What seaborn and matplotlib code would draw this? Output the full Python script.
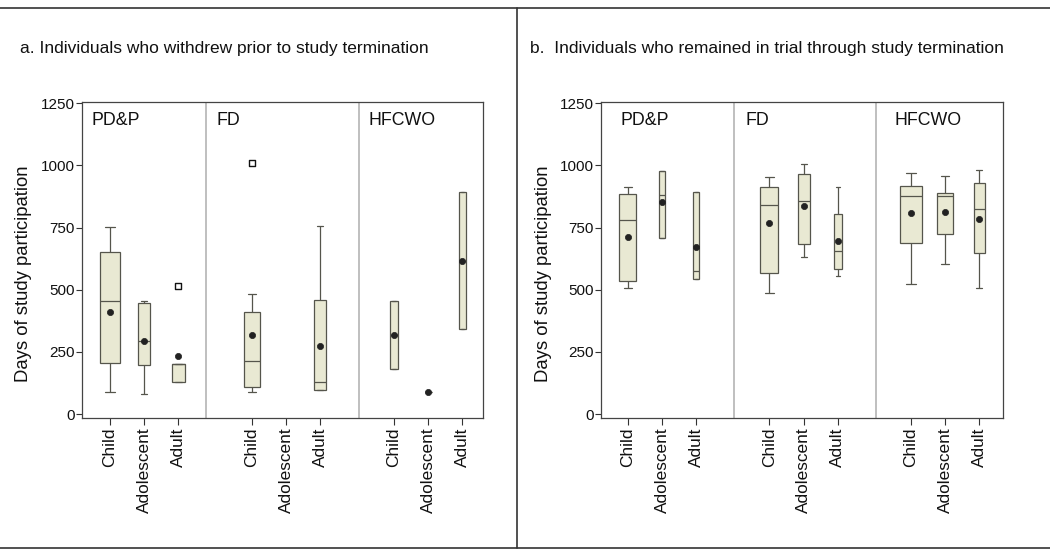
import numpy as np
import pandas as pd
import matplotlib
matplotlib.use("Agg")
import matplotlib.pyplot as plt
import seaborn as sns

# ---------------- data ----------------
groups = ["PD&P", "FD", "HFCWO"]
ages = ["Child", "Adolescent", "Adult"]

# Panel a: withdrew prior to study termination (order: PD&P C/Ad/A, FD C/Ad/A, HFCWO C/Ad/A)
a_lo   = [89, 80, 129, 89, np.nan, 97, 181, 89, 342]
a_q1   = [204, 198, 129, 109, np.nan, 98, 181, 89, 342]
a_med  = [455, 295, 200, 213, np.nan, 129, 319, 89, 616]
a_q3   = [652, 445, 200, 412, np.nan, 459, 455, 89, 895]
a_hi   = [751, 455, 200, 483, np.nan, 758, 455, 89, 895]
a_mean = [412, 295, 235, 319, np.nan, 275, 319, 89, 616]
a_out_idx = [2, 3]
a_out_val = [516, 1010]

# Panel b: remained in trial through study termination
b_lo   = [507, 709, 544, 488, 633, 557, 523, 605, 507]
b_q1   = [536, 709, 544, 569, 685, 582, 687, 726, 646]
b_med  = [781, 880, 577, 842, 857, 654, 877, 877, 826]
b_q3   = [885, 979, 895, 915, 964, 806, 916, 890, 928]
b_hi   = [913, 979, 895, 952, 1004, 913, 970, 956, 982]
b_mean = [713, 854, 671, 768, 837, 695, 807, 813, 786]

# ---------------- style ----------------
sns.set_style("white")
plt.rcParams["font.family"] = ["Liberation Sans", "DejaVu Sans"]

FILL = "#e9e9d3"
EDGE = "#55554c"
DOT = "#222222"
SEP = "#b4b4b4"

positions = [0, 1, 2, 4.15, 5.15, 6.15, 8.3, 9.3, 10.3]
a_widths = [0.58, 0.35, 0.38, 0.47, 0.3, 0.35, 0.26, 0.2, 0.23]
b_widths = [0.5, 0.2, 0.18, 0.53, 0.35, 0.23, 0.62, 0.47, 0.32]

fig = plt.figure(figsize=(10.5, 5.51), dpi=100)
ax_a = fig.add_axes([82 / 1050, 1 - 418 / 551, (483 - 82) / 1050, (418 - 102) / 551])
ax_b = fig.add_axes([601 / 1050, 1 - 418 / 551, (1003 - 601) / 1050, (418 - 102) / 551])


def style_axes(ax, xlim, ylabel_x):
    ax.set_xlim(*xlim)
    ax.set_ylim(-16, 1255)
    ax.set_yticks([0, 250, 500, 750, 1000, 1250])
    ax.set_xticks(positions)
    ax.set_xticklabels(ages * 3, rotation=90, fontsize=12.4)
    ax.tick_params(axis="y", labelsize=11, direction="out", length=4, width=0.8,
                   left=True, pad=1, colors="#333333")
    ax.tick_params(axis="x", direction="out", length=5, width=0.8, bottom=True,
                   pad=2, colors="#333333")
    for lab in ax.get_xticklabels() + ax.get_yticklabels():
        lab.set_color("#111111")
    ax.set_xlabel("")
    ax.set_ylabel("Days of study participation", fontsize=13.3, color="#111111")
    ax.yaxis.set_label_coords(ylabel_x, 0.455)
    for sp in ax.spines.values():
        sp.set_visible(True)
        sp.set_color("#444444")
        sp.set_linewidth(0.9)


def draw_panel(ax, lo, q1, med, q3, hi, mean, widths, seps, label_x):
    for i in range(len(positions)):
        if np.isnan(med[i]):
            continue
        vals = [lo[i], q1[i], med[i], q3[i], hi[i]]
        df = pd.DataFrame({"x": [positions[i]] * 5, "y": vals})
        sns.boxplot(data=df, x="x", y="y", native_scale=True, width=widths[i],
                    whis=np.inf, color=FILL, linecolor=EDGE, linewidth=0.9,
                    saturation=1, fliersize=0, ax=ax)
    mdf = pd.DataFrame({"x": positions, "y": mean}).dropna()
    sns.scatterplot(data=mdf, x="x", y="y", color=DOT, s=20, marker="o",
                    edgecolor=DOT, linewidth=0.5, ax=ax, zorder=5)
    for s in seps:
        ax.axvline(s, color=SEP, lw=1.2, zorder=0)
    for g, lx in zip(groups, label_x):
        ax.text(lx, 1180, g, fontsize=12.8, ha="left", va="center", color="#111111")


draw_panel(ax_a, a_lo, a_q1, a_med, a_q3, a_hi, a_mean, a_widths,
           [2.81, 7.28], [-0.53, 3.1, 7.54])
out_df = pd.DataFrame({"x": [positions[i] for i in a_out_idx], "y": a_out_val})
sns.scatterplot(data=out_df, x="x", y="y", marker="s", s=16, facecolor="white",
                edgecolor="#111111", linewidth=1.0, ax=ax_a, zorder=6)
style_axes(ax_a, (-0.82, 10.9), -50 / 401)

draw_panel(ax_b, b_lo, b_q1, b_med, b_q3, b_hi, b_mean, b_widths,
           [3.11, 7.28], [-0.23, 3.46, 7.83])
style_axes(ax_b, (-0.79, 11.0), -49 / 402)

fig.text(20 / 1050, 1 - 48 / 551, "a. Individuals who withdrew prior to study termination",
         fontsize=12.5, ha="left", va="center", color="#111111")
fig.text(530 / 1050, 1 - 48 / 551, "b.  Individuals who remained in trial through study termination",
         fontsize=12.5, ha="left", va="center", color="#111111")

# outer frame lines
fig.add_artist(plt.Line2D([0, 1], [1 - 8 / 551, 1 - 8 / 551], color="#333333", lw=1.2,
                          transform=fig.transFigure))
fig.add_artist(plt.Line2D([0, 1], [1 - 548 / 551, 1 - 548 / 551], color="#333333", lw=1.2,
                          transform=fig.transFigure))
fig.add_artist(plt.Line2D([517 / 1050, 517 / 1050], [1 - 8 / 551, 1 - 548 / 551],
                          color="#333333", lw=1.2, transform=fig.transFigure))

fig.savefig("out.png", dpi=100)
